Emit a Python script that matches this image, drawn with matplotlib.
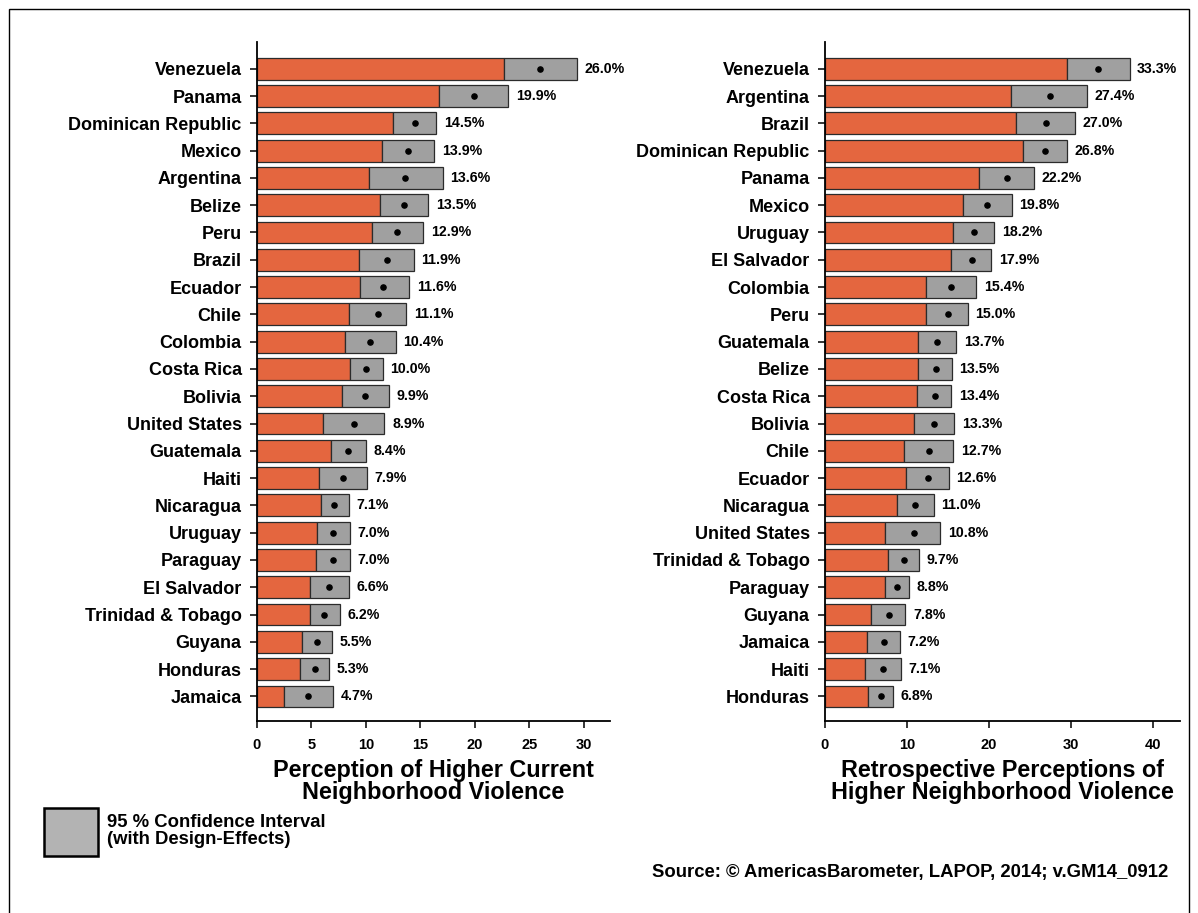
import numpy as np
import matplotlib
matplotlib.use("Agg")
import matplotlib.pyplot as plt
from matplotlib.patches import Rectangle

plt.rcParams['font.family'] = ['Liberation Sans', 'DejaVu Sans']
plt.rcParams['font.weight'] = 'bold'

# left panel: perception of higher current neighborhood violence
cur_countries = ["Venezuela", "Panama", "Dominican Republic", "Mexico", "Argentina",
                 "Belize", "Peru", "Brazil", "Ecuador", "Chile", "Colombia",
                 "Costa Rica", "Bolivia", "United States", "Guatemala", "Haiti",
                 "Nicaragua", "Uruguay", "Paraguay", "El Salvador",
                 "Trinidad & Tobago", "Guyana", "Honduras", "Jamaica"]
cur_est = [26.0, 19.9, 14.5, 13.9, 13.6, 13.5, 12.9, 11.9, 11.6, 11.1, 10.4, 10.0,
           9.9, 8.9, 8.4, 7.9, 7.1, 7.0, 7.0, 6.6, 6.2, 5.5, 5.3, 4.7]
cur_lo = [22.66, 16.70, 12.51, 11.44, 10.27, 11.28, 10.52, 9.33, 9.42, 8.41, 8.04, 8.53,
          7.83, 6.05, 6.82, 5.69, 5.87, 5.47, 5.41, 4.89, 4.83, 4.13, 3.97, 2.44]
cur_hi = [29.36, 23.09, 16.48, 16.30, 17.06, 15.75, 15.26, 14.40, 14.00, 13.70, 12.75, 11.53,
          12.08, 11.71, 10.00, 10.12, 8.41, 8.53, 8.53, 8.44, 7.64, 6.85, 6.61, 6.97]

# right panel: retrospective perceptions
ret_countries = ["Venezuela", "Argentina", "Brazil", "Dominican Republic", "Panama",
                 "Mexico", "Uruguay", "El Salvador", "Colombia", "Peru", "Guatemala",
                 "Belize", "Costa Rica", "Bolivia", "Chile", "Ecuador", "Nicaragua",
                 "United States", "Trinidad & Tobago", "Paraguay", "Guyana",
                 "Jamaica", "Haiti", "Honduras"]
ret_est = [33.3, 27.4, 27.0, 26.8, 22.2, 19.8, 18.2, 17.9, 15.4, 15.0, 13.7, 13.5,
           13.4, 13.3, 12.7, 12.6, 11.0, 10.8, 9.7, 8.8, 7.8, 7.2, 7.1, 6.8]
ret_lo = [29.48, 22.71, 23.24, 24.17, 18.84, 16.84, 15.66, 15.37, 12.31, 12.35, 11.33, 11.33,
          11.21, 10.89, 9.66, 9.91, 8.76, 7.38, 7.74, 7.29, 5.66, 5.13, 4.93, 5.26]
ret_hi = [37.14, 31.93, 30.46, 29.48, 25.52, 22.75, 20.63, 20.26, 18.42, 17.44, 16.02, 15.49,
          15.41, 15.78, 15.66, 15.12, 13.28, 14.07, 11.45, 10.28, 9.82, 9.17, 9.30, 8.32]

ORANGE = "#E4663F"
GREY = "#A0A0A0"
EDGE = "#2b2b2b"


def draw_panel(ax, countries, est, lo, hi, xmax, ticks, title):
    n = len(countries)
    y = np.arange(n)[::-1]
    lo = np.array(lo)
    hi = np.array(hi)
    ax.barh(y, lo, height=0.8, color=ORANGE, edgecolor=EDGE, linewidth=0.9, zorder=2)
    ax.barh(y, hi - lo, left=lo, height=0.8, color=GREY, edgecolor=EDGE,
            linewidth=0.9, zorder=2)
    ax.scatter(est, y, s=14, color="black", zorder=3)
    for yi, h, e in zip(y, hi, est):
        ax.annotate("{:.1f}%".format(e), (h, yi), xytext=(5.5, 0), textcoords="offset points",
                    va="center", ha="left", fontsize=10.2, fontweight="bold")
    ax.set_yticks(y)
    ax.set_yticklabels(countries, fontsize=13, fontweight="bold")
    ax.set_xticks(ticks)
    ax.set_xticklabels([str(t) for t in ticks], fontsize=10.5, fontweight="bold")
    ax.set_xlim(0, xmax)
    ax.set_ylim(-0.9, n - 0.02)
    for s in ["top", "right"]:
        ax.spines[s].set_visible(False)
    for s in ["left", "bottom"]:
        ax.spines[s].set_linewidth(1.3)
    ax.tick_params(axis="both", direction="out", length=5, width=1.1)
    ax.tick_params(axis="y", pad=6)
    ax.tick_params(axis="x", pad=7)
    ax.set_xlabel(title, fontsize=16.8, fontweight="bold", linespacing=0.95, labelpad=5)


fig = plt.figure(figsize=(11.98, 9.13), dpi=100)
ax1 = fig.add_axes([0.2145, 0.2103, 0.2945, 0.7437])
ax2 = fig.add_axes([0.6886, 0.2103, 0.2964, 0.7437])

draw_panel(ax1, cur_countries, cur_est, cur_lo, cur_hi, 32.4, [0, 5, 10, 15, 20, 25, 30],
           "Perception of Higher Current\nNeighborhood Violence")
draw_panel(ax2, ret_countries, ret_est, ret_lo, ret_hi, 43.3, [0, 10, 20, 30, 40],
           "Retrospective Perceptions of\nHigher Neighborhood Violence")

# outer frame
fig.patches.append(Rectangle((9 / 1198, -0.01), 1180 / 1198, 1 - 9 / 913 + 0.01,
                             transform=fig.transFigure, fill=False, edgecolor="black",
                             linewidth=1.0))

# legend box
fig.patches.append(Rectangle((44 / 1198, 1 - 856 / 913), 54 / 1198, 48 / 913,
                             transform=fig.transFigure, facecolor="#B3B3B3",
                             edgecolor="black", linewidth=1.8))
fig.text(107 / 1198, 1 - 831 / 913, "95 % Confidence Interval\n(with Design-Effects)",
         fontsize=13.3, fontweight="bold", va="center", ha="left", linespacing=1.0)

fig.text(1168 / 1198, 1 - 872 / 913, "Source: \u00a9 AmericasBarometer, LAPOP, 2014; v.GM14_0912",
         fontsize=13.3, fontweight="bold", va="center", ha="right")

fig.savefig("out.png", dpi=100)
